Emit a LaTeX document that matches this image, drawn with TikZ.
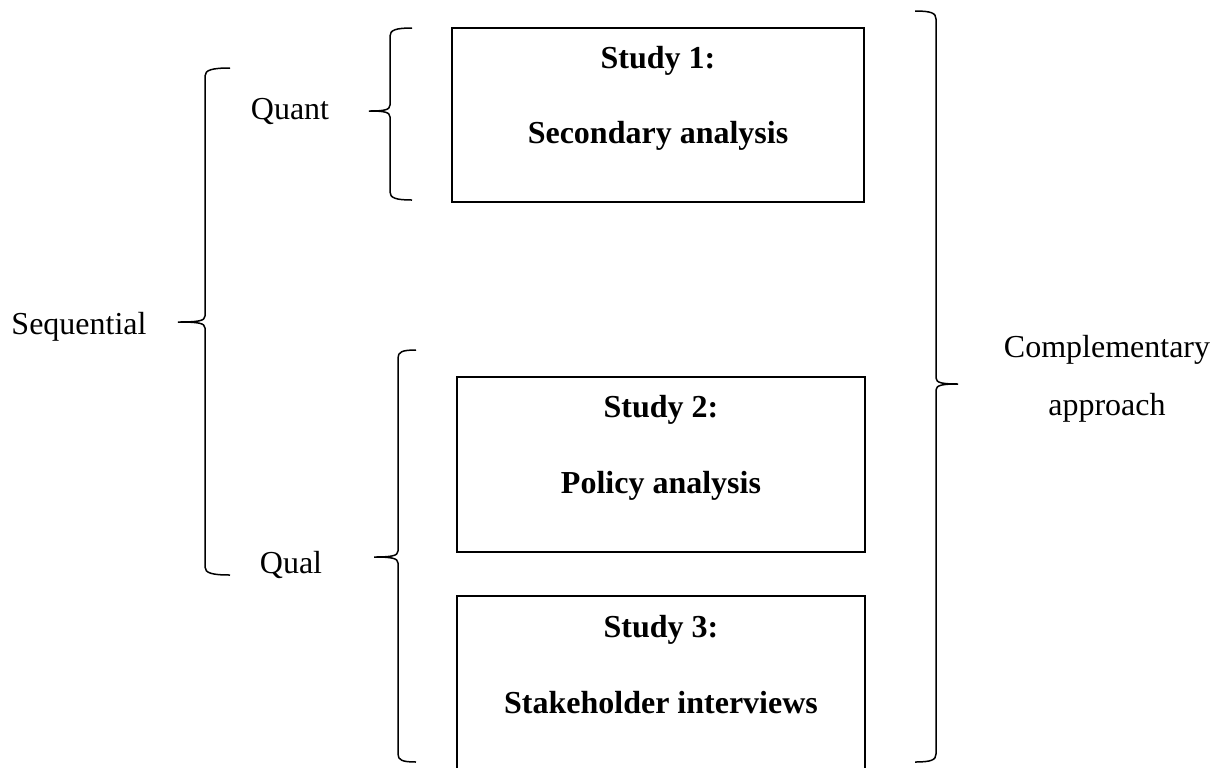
\documentclass[tikz,border=0pt]{standalone}
\usepackage{fontspec}
\setmainfont{Liberation Serif}

\begin{document}
\begin{tikzpicture}[x=0.5pt,y=-0.5pt,
    studybox/.style={draw,line width=1pt,minimum width=204pt,minimum height=87.5pt,inner sep=0pt},
    boxtext/.style={anchor=base,font=\fontsize{16}{19}\selectfont\bfseries},
    sidetext/.style={anchor=base,font=\fontsize{16}{19}\selectfont},
    curly/.style={line width=0.75pt}]
      \useasboundingbox (0,0) rectangle (1222,767);
      \clip (0,0) rectangle (1222,767);
      \node[studybox,minimum width=206pt,minimum height=87pt] (study1) at (658,115) {};
      \node[studybox] (study2) at (661,464.5) {};
      \node[studybox] (study3) at (661,683.5) {};
      \node[boxtext] (s1title) at (658,68) {Study 1:};
      \node[boxtext] (s1name) at (658,143) {Secondary analysis};
      \node[boxtext] (s2title) at (661,417) {Study 2:};
      \node[boxtext] (s2name) at (661,493) {Policy analysis};
      \node[boxtext] (s3title) at (661,637) {Study 3:};
      \node[boxtext] (s3name) at (661,713) {Stakeholder interviews};
      \node[sidetext] (seq) at (79,334) {Sequential};
      \node[sidetext] (quant) at (290,119) {Quant};
      \node[sidetext] (qual) at (291,573) {Qual};
      \node[sidetext] (compl) at (1107,357) {Complementary};
      \node[sidetext] (appr) at (1107,415) {approach};
      \draw[curly] (230,68) .. controls +(-18,0) and +(0,-6) .. (205,76) -- (205,316)
        .. controls +(0,5) and +(20,0) .. (178,322) .. controls +(20,0) and +(0,-5) .. (205,328)
        -- (205,567) .. controls +(0,6) and +(-18,0) .. (230,575);
      \draw[curly] (412,28) .. controls +(-16,0) and +(0,-6) .. (390,36) -- (390,105)
        .. controls +(0,5) and +(15,0) .. (369,111) .. controls +(15,0) and +(0,-5) .. (390,117)
        -- (390,192) .. controls +(0,6) and +(-16,0) .. (412,200);
      \draw[curly] (416,350) .. controls +(-14,0) and +(0,-6) .. (398,358) -- (398,551)
        .. controls +(0,5) and +(17,0) .. (374,557) .. controls +(17,0) and +(0,-5) .. (398,563)
        -- (398,754) .. controls +(0,6) and +(-14,0) .. (416,762);
      \draw[curly] (915,11) .. controls +(16,0) and +(0,-6) .. (936,19) -- (936,378)
        .. controls +(0,5) and +(-15,0) .. (958,384) .. controls +(-15,0) and +(0,-5) .. (936,390)
        -- (936,754) .. controls +(0,6) and +(16,0) .. (915,762);
    \end{tikzpicture}
\end{document}
